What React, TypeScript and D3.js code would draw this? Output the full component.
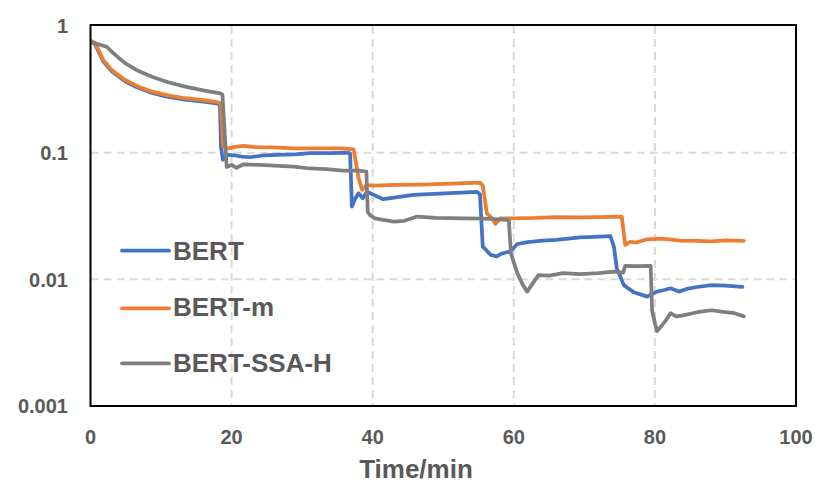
import { line, scaleLinear, scaleLog } from 'd3';

type Pt = [number, number];

// time (min) vs. value
const bertPoints: Pt[] = [
  [0.2, 0.75], [0.6, 0.725], [1.1, 0.635], [1.8, 0.527], [3, 0.44], [4.9, 0.366], [6.5, 0.33],
  [8.7, 0.296], [11, 0.276], [13.4, 0.262], [16, 0.253], [18.1, 0.244], [18.35, 0.238], [18.5, 0.111],
  [18.75, 0.088], [19.3, 0.096], [20.5, 0.095], [21.5, 0.093], [22.6, 0.092], [24.5, 0.095],
  [26.4, 0.096], [29, 0.097], [31.1, 0.099], [34, 0.099], [36.6, 0.1], [36.8, 0.098], [37.05, 0.0375],
  [37.5, 0.043], [38, 0.0478], [38.6, 0.0437], [39.2, 0.0492], [40.3, 0.046], [41.5, 0.0429],
  [43.5, 0.0445], [45.8, 0.0464], [48, 0.047], [51, 0.048], [54.8, 0.049], [55.2, 0.047],
  [55.6, 0.0181], [56.1, 0.017], [56.7, 0.0156], [57.6, 0.0152], [58.3, 0.016], [59.5, 0.0166],
  [60.5, 0.019], [62, 0.0197], [64, 0.0202], [66, 0.0205], [69.4, 0.0214], [71.5, 0.0216],
  [73.7, 0.0219], [74.2, 0.018], [74.6, 0.0122], [75.6, 0.009], [77, 0.0079], [78.9, 0.0073],
  [80.3, 0.008], [81.2, 0.0082], [82.2, 0.0085], [83.4, 0.008], [84.5, 0.0084], [86, 0.0087],
  [88, 0.009], [90, 0.0089], [92.4, 0.0087],
];

const bertMPoints: Pt[] = [
  [0.2, 0.76], [0.6, 0.74], [1.1, 0.65], [1.8, 0.54], [3, 0.45], [4.9, 0.375], [6.5, 0.338],
  [8.7, 0.303], [11, 0.283], [13.4, 0.269], [16, 0.26], [18.1, 0.25], [18.5, 0.245], [18.8, 0.112],
  [19.5, 0.108], [20.5, 0.111], [21.7, 0.113], [23, 0.111], [24.1, 0.11], [26, 0.11], [28.8, 0.108],
  [32, 0.108], [35.8, 0.108], [37.3, 0.106], [38, 0.063], [38.5, 0.0508], [39.2, 0.0556], [40, 0.055],
  [43.4, 0.0556], [47, 0.056], [51, 0.057], [55.2, 0.058], [55.6, 0.055], [56.2, 0.033], [56.8, 0.031],
  [57.4, 0.0274], [58.1, 0.0303], [60, 0.0303], [63, 0.0305], [66, 0.031], [69.4, 0.0309], [72, 0.031],
  [75.3, 0.0313], [75.8, 0.0187], [76.5, 0.0198], [77.3, 0.0195], [78.9, 0.0207], [81, 0.021],
  [83.6, 0.0202], [86, 0.0201], [88, 0.0199], [90, 0.0203], [92.6, 0.0201],
];

const bertSsaHPoints: Pt[] = [
  [0.2, 0.74], [1, 0.72], [2.3, 0.686], [3, 0.627], [4, 0.56], [4.9, 0.51], [6.5, 0.45], [8.7, 0.398],
  [11, 0.36], [13.4, 0.332], [16, 0.31], [18.4, 0.294], [18.7, 0.287], [19, 0.15], [19.3, 0.077],
  [20, 0.08], [20.7, 0.076], [21.7, 0.081], [24, 0.08], [26, 0.079], [28.8, 0.0776], [31.1, 0.075],
  [33.5, 0.074], [35.8, 0.072], [38.2, 0.072], [39.1, 0.071], [39.3, 0.034], [39.6, 0.0322],
  [40.3, 0.0303], [41.5, 0.0295], [43, 0.0285], [44.5, 0.029], [46.3, 0.0313], [49, 0.0305],
  [52.9, 0.0303], [56, 0.0302], [59, 0.0295], [59.3, 0.029], [59.6, 0.016], [60.5, 0.0112],
  [61.3, 0.009], [61.9, 0.008], [62.8, 0.0095], [63.5, 0.0108], [65, 0.0107], [67, 0.0112],
  [69.4, 0.011], [72, 0.0112], [74.2, 0.0115], [75.5, 0.0113], [75.8, 0.0128], [77.5, 0.0127],
  [79.4, 0.0128], [79.6, 0.0057], [80, 0.0045], [80.3, 0.0039], [80.8, 0.0042], [81.5, 0.0047],
  [82.2, 0.0054], [83, 0.0051], [84, 0.0052], [86, 0.0055], [88, 0.0057], [90, 0.0055],
  [91.3, 0.0054], [92.6, 0.0051],
];

const seriesNames = ['BERT', 'BERT-m', 'BERT-SSA-H'];
const seriesColors = ['#4472C4', '#ED7D31', '#7F7F7F'];
const xTicks = [0, 20, 40, 60, 80, 100];
const yTicks = [1, 0.1, 0.01, 0.001];
const yTickLabels = ['1', '0.1', '0.01', '0.001'];
const xGrid = [20, 40, 60, 80];
const yGrid = [0.1, 0.01];

const FONT = "'Liberation Sans', Arial, sans-serif";
const TEXT = '#595959';

export default function App() {
  const width = 830;
  const height = 497;
  const plot = { left: 90.5, right: 796, top: 26, bottom: 406 };

  const x = scaleLinear().domain([0, 100]).range([plot.left, plot.right]);
  const y = scaleLog().domain([0.001, 1]).range([plot.bottom, plot.top]);
  const path = line<Pt>().x((d) => x(d[0])).y((d) => y(d[1]));

  const allSeries = [bertPoints, bertMPoints, bertSsaHPoints];
  const legendLineY = [250.7, 308.3, 363.3];
  const legendTextY = [260, 316, 372];

  return (
    <svg width={width} height={height} style={{ position: 'absolute', left: 0, top: 0, background: '#fff' }}>
      {xGrid.map((t) => (
        <line key={`gx${t}`} x1={x(t)} x2={x(t)} y1={plot.top} y2={plot.bottom} stroke="#d9d9d9" strokeWidth={2} strokeDasharray="8,5" />
      ))}
      {yGrid.map((v) => (
        <line key={`gy${v}`} x1={plot.left} x2={plot.right} y1={y(v)} y2={y(v)} stroke="#d9d9d9" strokeWidth={2} strokeDasharray="8,5" />
      ))}

      {allSeries.map((pts, i) => (
        <path key={seriesNames[i]} d={path(pts) ?? ''} fill="none" stroke={seriesColors[i]} strokeWidth={3.75} strokeLinejoin="round" strokeLinecap="round" />
      ))}

      <rect x={plot.left} y={plot.top - 1} width={plot.right - plot.left} height={plot.bottom - plot.top + 1} fill="none" stroke="#000" strokeWidth={2} />

      {yTicks.map((v, i) => (
        <text key={`ty${v}`} x={68} y={y(v)} dy="0.36em" textAnchor="end" fontFamily={FONT} fontWeight="bold" fontSize={20} fill={TEXT}>
          {yTickLabels[i]}
        </text>
      ))}
      {xTicks.map((t) => (
        <text key={`tx${t}`} x={x(t)} y={444} textAnchor="middle" fontFamily={FONT} fontWeight="bold" fontSize={20} fill={TEXT}>
          {t}
        </text>
      ))}
      <text x={416} y={478} textAnchor="middle" fontFamily={FONT} fontWeight="bold" fontSize={26} fill={TEXT}>
        Time/min
      </text>

      {seriesNames.map((name, i) => (
        <g key={`lg${name}`}>
          <line x1={122} x2={169} y1={legendLineY[i]} y2={legendLineY[i]} stroke={seriesColors[i]} strokeWidth={3.75} strokeLinecap="round" />
          <text x={173} y={legendTextY[i]} fontFamily={FONT} fontWeight="bold" fontSize={26} fill={TEXT}>
            {name}
          </text>
        </g>
      ))}
    </svg>
  );
}
